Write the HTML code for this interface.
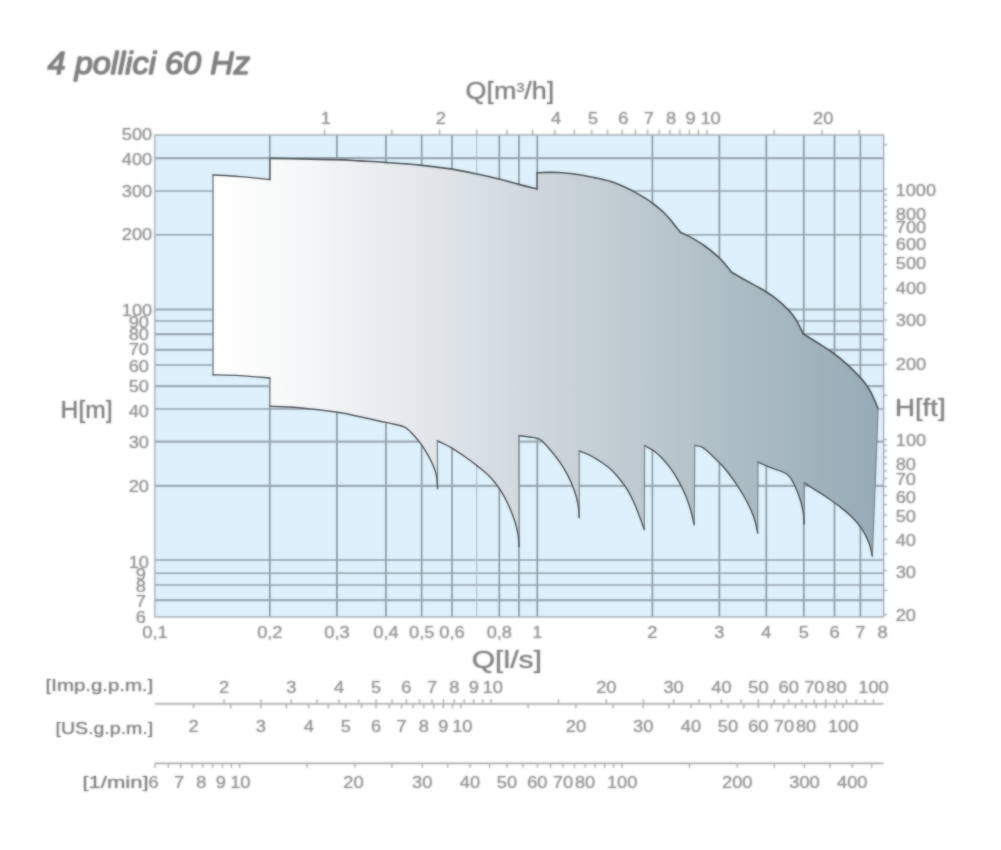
<!DOCTYPE html>
<html lang="it">
<head>
<meta charset="utf-8">
<title>4 pollici 60 Hz</title>
<style>
html,body{margin:0;padding:0;background:#ffffff;}
body{width:1001px;height:850px;overflow:hidden;font-family:"Liberation Sans",sans-serif;}
svg{display:block;font-family:"Liberation Sans",sans-serif;}
#wrap{width:1001px;height:850px;}
.soft{filter:blur(0.8px);}
.crisp{opacity:0.5;}
</style>
</head>
<body>
<div id="wrap">
<svg width="1001" height="850" viewBox="0 0 1001 850">
<defs><g id="all">
<rect x="155" y="135.1" width="728.5" height="481.7" fill="#ddf0fb"/>
<g stroke="#8c9aa3" stroke-width="1.7" fill="none">
<line x1="269.8" y1="135.1" x2="269.8" y2="616.8"/>
<line x1="336.9" y1="135.1" x2="336.9" y2="616.8"/>
<line x1="385.9" y1="135.1" x2="385.9" y2="616.8"/>
<line x1="421.7" y1="135.1" x2="421.7" y2="616.8"/>
<line x1="452" y1="135.1" x2="452" y2="616.8"/>
<line x1="499.3" y1="135.1" x2="499.3" y2="616.8"/>
<line x1="518.9" y1="135.1" x2="518.9" y2="616.8"/>
<line x1="537.3" y1="135.1" x2="537.3" y2="616.8"/>
<line x1="652.4" y1="135.1" x2="652.4" y2="616.8"/>
<line x1="719.4" y1="135.1" x2="719.4" y2="616.8"/>
<line x1="766.3" y1="135.1" x2="766.3" y2="616.8"/>
<line x1="803.8" y1="135.1" x2="803.8" y2="616.8"/>
<line x1="834.5" y1="135.1" x2="834.5" y2="616.8"/>
<line x1="860.4" y1="135.1" x2="860.4" y2="616.8"/>
</g>
<g stroke="#93a1aa" fill="none">
<line x1="155" y1="158.2" x2="883.5" y2="158.2" stroke-width="2.2" stroke="#9ba9b2"/>
<line x1="155" y1="190.9" x2="883.5" y2="190.9" stroke-width="1.5"/>
<line x1="155" y1="234.7" x2="883.5" y2="234.7" stroke-width="1.5"/>
<line x1="155" y1="309.5" x2="883.5" y2="309.5" stroke-width="2.2" stroke="#9ba9b2"/>
<line x1="155" y1="321" x2="883.5" y2="321" stroke-width="1.5"/>
<line x1="155" y1="334.2" x2="883.5" y2="334.2" stroke-width="2.2" stroke="#9ba9b2"/>
<line x1="155" y1="349.8" x2="883.5" y2="349.8" stroke-width="2.2" stroke="#9ba9b2"/>
<line x1="155" y1="364.9" x2="883.5" y2="364.9" stroke-width="1.5"/>
<line x1="155" y1="386.1" x2="883.5" y2="386.1" stroke-width="2.2" stroke="#9ba9b2"/>
<line x1="155" y1="409" x2="883.5" y2="409" stroke-width="1.5"/>
<line x1="155" y1="441.6" x2="883.5" y2="441.6" stroke-width="2.2" stroke="#9ba9b2"/>
<line x1="155" y1="485.8" x2="883.5" y2="485.8" stroke-width="2.2" stroke="#9ba9b2"/>
<line x1="155" y1="559.9" x2="883.5" y2="559.9" stroke-width="1.5"/>
<line x1="155" y1="573.3" x2="883.5" y2="573.3" stroke-width="1.5"/>
<line x1="155" y1="585.1" x2="883.5" y2="585.1" stroke-width="1.5"/>
<line x1="155" y1="600.1" x2="883.5" y2="600.1" stroke-width="2.2" stroke="#9ba9b2"/>
</g>
<line x1="476.6" y1="135.1" x2="476.6" y2="616.8" stroke="#b4c3cc" stroke-width="1.2"/>
<defs><linearGradient id="g" gradientUnits="userSpaceOnUse" x1="213" y1="0" x2="878" y2="0"><stop offset="0" stop-color="#ffffff"/><stop offset="0.12" stop-color="#f7f8f9"/><stop offset="0.30" stop-color="#e4e9ec"/><stop offset="0.50" stop-color="#cdd6dc"/><stop offset="0.75" stop-color="#b1c0c8"/><stop offset="1" stop-color="#96abb6"/></linearGradient></defs>
<path d="M213,374.8 L213,175 C217.5,175.27 230.5,175.85 240,176.6 C249.5,177.35 265,179.02 270,179.5 L270,158.4 C275,158.48 288.83,158.7 300,158.9 C311.17,159.1 327,159.27 337,159.6 C347,159.93 352,160.43 360,160.9 C368,161.37 375,161.7 385,162.4 C395,163.1 408.83,163.98 420,165.1 C431.17,166.22 442.5,167.62 452,169.1 C461.5,170.58 469,172.3 477,174 C485,175.7 493.03,177.57 500,179.3 C506.97,181.03 512.62,182.78 518.8,184.4 C524.98,186.02 534.05,188.23 537.1,189 L537.1,172.9 C538.75,172.82 543.38,172.47 547,172.4 C550.62,172.33 554.87,172.32 558.8,172.5 C562.73,172.68 566.67,173.03 570.6,173.5 C574.53,173.97 578.48,174.62 582.4,175.3 C586.32,175.98 591.17,177.02 594.1,177.6 C597.03,178.18 597.05,178.1 600,178.8 C602.95,179.5 607.88,180.52 611.8,181.8 C615.72,183.08 619.58,184.73 623.5,186.5 C627.42,188.27 631.37,190.25 635.3,192.4 C639.23,194.55 644.17,197.55 647.1,199.4 C650.03,201.25 650.95,202.03 652.9,203.5 C654.85,204.97 656.83,206.53 658.8,208.2 C660.77,209.87 662.73,211.53 664.7,213.5 C666.67,215.47 668.63,217.65 670.6,220 C672.57,222.35 674.83,225.53 676.5,227.6 C678.17,229.67 679.92,231.6 680.6,232.4 C681.87,232.98 684.28,233.72 688.2,235.9 C692.12,238.08 699.1,242.02 704.1,245.5 C709.1,248.98 714.67,253.63 718.2,256.8 C721.73,259.97 723.07,261.92 725.3,264.5 C727.53,267.08 730.55,271 731.6,272.3 C734.08,273.72 741.67,278.1 746.5,280.8 C751.33,283.5 755.9,285.68 760.6,288.5 C765.3,291.32 770,294.05 774.7,297.7 C779.4,301.35 785.27,306.75 788.8,310.4 C792.33,314.05 793.47,315.67 795.9,319.6 C798.33,323.53 802.15,331.6 803.4,334 C805.87,335.55 813.37,340.22 818.2,343.3 C823.03,346.38 827.68,349.08 832.4,352.5 C837.12,355.92 841.8,359.57 846.5,363.8 C851.2,368.03 856.83,373.67 860.6,377.9 C864.37,382.13 866.75,385.43 869.1,389.2 C871.45,392.97 873.22,397.25 874.7,400.5 C876.18,403.75 877.45,407.33 878,408.7 C877.8,414.32 877.35,427.97 876.8,442.4 C876.25,456.83 875.33,479.42 874.7,495.3 C874.07,511.18 873.4,527.58 873,537.7 C872.6,547.82 872.42,552.95 872.3,556 C871.82,554 871.12,548.47 869.4,544 C867.68,539.53 865,533.78 862,529.2 C859,524.62 855.3,520.4 851.4,516.5 C847.5,512.6 842.65,508.97 838.6,505.8 C834.55,502.63 830.95,500.12 827.1,497.5 C823.25,494.88 819.32,492.55 815.5,490.1 C811.68,487.65 806.08,484.02 804.2,482.8 L804.2,524 C804.12,522.62 804.15,519.02 803.7,515.7 C803.25,512.38 802.55,508.08 801.5,504.1 C800.45,500.12 798.9,495.63 797.4,491.8 C795.9,487.97 794.15,483.98 792.5,481.1 C790.85,478.22 789.43,476.15 787.5,474.5 C785.57,472.85 783.92,472.43 780.9,471.2 C777.88,469.97 773.23,468.62 769.4,467.1 C765.57,465.58 759.82,462.93 757.9,462.1 L757.7,533 C757.32,531.2 756.47,525.92 755.4,522.2 C754.33,518.48 753.08,514.82 751.3,510.7 C749.52,506.58 747.17,501.88 744.7,497.5 C742.23,493.12 739.25,488.52 736.5,484.4 C733.75,480.28 730.63,475.98 728.2,472.8 C725.77,469.62 724.6,468.2 721.9,465.3 C719.2,462.4 715.3,458.42 712,455.4 C708.7,452.38 704.98,448.87 702.1,447.2 C699.22,445.53 695.93,445.7 694.7,445.4 L694.2,524.6 C693.6,522.13 692.02,514.6 690.6,509.8 C689.18,505 687.62,500.47 685.7,495.8 C683.78,491.13 681.58,486.33 679.1,481.8 C676.62,477.27 673.55,472.45 670.8,468.6 C668.05,464.75 665.33,461.58 662.6,458.7 C659.87,455.82 657.42,453.5 654.4,451.3 C651.38,449.1 646.15,446.47 644.5,445.5 L644.3,529.5 C643.65,527.72 642.02,523.05 640.4,518.8 C638.78,514.55 636.67,508.67 634.6,504 C632.53,499.33 630.47,494.92 628,490.8 C625.53,486.68 622.82,483 619.8,479.3 C616.78,475.6 613.43,471.75 609.9,468.6 C606.37,465.45 602.13,462.73 598.6,460.4 C595.07,458.07 591.93,456.17 588.7,454.6 C585.47,453.03 580.78,451.6 579.2,451 L579.2,517.5 C579,515.25 578.88,508.72 578,504 C577.12,499.28 575.68,494.13 573.9,489.2 C572.12,484.27 569.77,479.07 567.3,474.4 C564.83,469.73 561.85,465.18 559.1,461.2 C556.35,457.22 553.55,453.8 550.8,450.5 C548.05,447.2 544.78,443.42 542.6,441.4 C540.42,439.38 539.9,439.13 537.7,438.4 C535.5,437.67 532.55,437.47 529.4,437 C526.25,436.53 520.57,435.83 518.8,435.6 L519.1,546.6 C518.9,544.45 518.65,538.05 517.9,533.7 C517.15,529.35 516.25,525.45 514.6,520.5 C512.95,515.55 510.47,509.22 508,504 C505.53,498.78 502.82,493.73 499.8,489.2 C496.78,484.67 493.4,480.48 489.9,476.8 C486.4,473.12 483,470.48 478.8,467.1 C474.6,463.72 469.4,459.8 464.7,456.5 C460,453.2 455.17,449.95 450.6,447.3 C446.03,444.65 439.52,441.72 437.3,440.6 L437.6,488.5 C437.42,486.45 437.17,479.88 436.5,476.2 C435.83,472.52 435.02,469.92 433.6,466.4 C432.18,462.88 430.12,458.87 428,455.1 C425.88,451.33 423.48,447.33 420.9,443.8 C418.32,440.27 415.2,436.68 412.5,433.9 C409.8,431.12 407.77,428.7 404.7,427.1 C401.63,425.5 398.22,425.28 394.1,424.3 C389.98,423.32 385.1,422.33 380,421.2 C374.9,420.07 370.57,418.98 363.5,417.5 C356.43,416.02 348.38,413.93 337.6,412.3 C326.82,410.67 310.07,408.7 298.8,407.7 C287.53,406.7 274.8,406.53 270,406.3 L270,378 C265,377.6 249.5,376.13 240,375.6 C230.5,375.07 217.5,374.93 213,374.8 Z" fill="url(#g)"/>
<g fill="none" stroke-linecap="round">
<path d="M213,374.8 L213,175" stroke="#7d858c" stroke-width="1.5"/>
<path d="M213,175 C217.5,175.27 230.5,175.85 240,176.6 C249.5,177.35 265,179.02 270,179.5" stroke="#4e5358" stroke-width="1.4"/>
<path d="M270,179.5 L270,158.4" stroke="#4e5358" stroke-width="1.4"/>
<path d="M270,158.4 C275,158.48 288.83,158.7 300,158.9 C311.17,159.1 327,159.27 337,159.6 C347,159.93 352,160.43 360,160.9 C368,161.37 375,161.7 385,162.4 C395,163.1 408.83,163.98 420,165.1 C431.17,166.22 442.5,167.62 452,169.1 C461.5,170.58 469,172.3 477,174 C485,175.7 493.03,177.57 500,179.3 C506.97,181.03 512.62,182.78 518.8,184.4 C524.98,186.02 534.05,188.23 537.1,189" stroke="#4e5358" stroke-width="1.65"/>
<path d="M537.1,189 L537.1,172.9" stroke="#4e5358" stroke-width="1.4"/>
<path d="M537.1,172.9 C538.75,172.82 543.38,172.47 547,172.4 C550.62,172.33 554.87,172.32 558.8,172.5 C562.73,172.68 566.67,173.03 570.6,173.5 C574.53,173.97 578.48,174.62 582.4,175.3 C586.32,175.98 591.17,177.02 594.1,177.6 C597.03,178.18 597.05,178.1 600,178.8 C602.95,179.5 607.88,180.52 611.8,181.8 C615.72,183.08 619.58,184.73 623.5,186.5 C627.42,188.27 631.37,190.25 635.3,192.4 C639.23,194.55 644.17,197.55 647.1,199.4 C650.03,201.25 650.95,202.03 652.9,203.5 C654.85,204.97 656.83,206.53 658.8,208.2 C660.77,209.87 662.73,211.53 664.7,213.5 C666.67,215.47 668.63,217.65 670.6,220 C672.57,222.35 674.83,225.53 676.5,227.6 C678.17,229.67 679.92,231.6 680.6,232.4" stroke="#4e5358" stroke-width="1.65"/>
<path d="M680.6,232.4 C681.87,232.98 684.28,233.72 688.2,235.9 C692.12,238.08 699.1,242.02 704.1,245.5 C709.1,248.98 714.67,253.63 718.2,256.8 C721.73,259.97 723.07,261.92 725.3,264.5 C727.53,267.08 730.55,271 731.6,272.3" stroke="#4e5358" stroke-width="1.65"/>
<path d="M731.6,272.3 C734.08,273.72 741.67,278.1 746.5,280.8 C751.33,283.5 755.9,285.68 760.6,288.5 C765.3,291.32 770,294.05 774.7,297.7 C779.4,301.35 785.27,306.75 788.8,310.4 C792.33,314.05 793.47,315.67 795.9,319.6 C798.33,323.53 802.15,331.6 803.4,334" stroke="#4e5358" stroke-width="1.65"/>
<path d="M803.4,334 C805.87,335.55 813.37,340.22 818.2,343.3 C823.03,346.38 827.68,349.08 832.4,352.5 C837.12,355.92 841.8,359.57 846.5,363.8 C851.2,368.03 856.83,373.67 860.6,377.9 C864.37,382.13 866.75,385.43 869.1,389.2 C871.45,392.97 873.22,397.25 874.7,400.5 C876.18,403.75 877.45,407.33 878,408.7" stroke="#4e5358" stroke-width="1.65"/>
<path d="M878,408.7 C877.8,414.32 877.35,427.97 876.8,442.4 C876.25,456.83 875.33,479.42 874.7,495.3 C874.07,511.18 873.4,527.58 873,537.7 C872.6,547.82 872.42,552.95 872.3,556" stroke="#7d858c" stroke-width="1.25"/>
<path d="M872.3,556 C871.82,554 871.12,548.47 869.4,544 C867.68,539.53 865,533.78 862,529.2 C859,524.62 855.3,520.4 851.4,516.5 C847.5,512.6 842.65,508.97 838.6,505.8 C834.55,502.63 830.95,500.12 827.1,497.5 C823.25,494.88 819.32,492.55 815.5,490.1 C811.68,487.65 806.08,484.02 804.2,482.8" stroke="#4e5358" stroke-width="1.4"/>
<path d="M804.2,482.8 L804.2,524" stroke="#7d858c" stroke-width="1.25"/>
<path d="M804.2,524 C804.12,522.62 804.15,519.02 803.7,515.7 C803.25,512.38 802.55,508.08 801.5,504.1 C800.45,500.12 798.9,495.63 797.4,491.8 C795.9,487.97 794.15,483.98 792.5,481.1 C790.85,478.22 789.43,476.15 787.5,474.5 C785.57,472.85 783.92,472.43 780.9,471.2 C777.88,469.97 773.23,468.62 769.4,467.1 C765.57,465.58 759.82,462.93 757.9,462.1" stroke="#4e5358" stroke-width="1.4"/>
<path d="M757.9,462.1 L757.7,533" stroke="#7d858c" stroke-width="1.25"/>
<path d="M757.7,533 C757.32,531.2 756.47,525.92 755.4,522.2 C754.33,518.48 753.08,514.82 751.3,510.7 C749.52,506.58 747.17,501.88 744.7,497.5 C742.23,493.12 739.25,488.52 736.5,484.4 C733.75,480.28 730.63,475.98 728.2,472.8 C725.77,469.62 724.6,468.2 721.9,465.3 C719.2,462.4 715.3,458.42 712,455.4 C708.7,452.38 704.98,448.87 702.1,447.2 C699.22,445.53 695.93,445.7 694.7,445.4" stroke="#4e5358" stroke-width="1.4"/>
<path d="M694.7,445.4 L694.2,524.6" stroke="#7d858c" stroke-width="1.25"/>
<path d="M694.2,524.6 C693.6,522.13 692.02,514.6 690.6,509.8 C689.18,505 687.62,500.47 685.7,495.8 C683.78,491.13 681.58,486.33 679.1,481.8 C676.62,477.27 673.55,472.45 670.8,468.6 C668.05,464.75 665.33,461.58 662.6,458.7 C659.87,455.82 657.42,453.5 654.4,451.3 C651.38,449.1 646.15,446.47 644.5,445.5" stroke="#4e5358" stroke-width="1.4"/>
<path d="M644.5,445.5 L644.3,529.5" stroke="#7d858c" stroke-width="1.25"/>
<path d="M644.3,529.5 C643.65,527.72 642.02,523.05 640.4,518.8 C638.78,514.55 636.67,508.67 634.6,504 C632.53,499.33 630.47,494.92 628,490.8 C625.53,486.68 622.82,483 619.8,479.3 C616.78,475.6 613.43,471.75 609.9,468.6 C606.37,465.45 602.13,462.73 598.6,460.4 C595.07,458.07 591.93,456.17 588.7,454.6 C585.47,453.03 580.78,451.6 579.2,451" stroke="#4e5358" stroke-width="1.4"/>
<path d="M579.2,451 L579.2,517.5" stroke="#7d858c" stroke-width="1.25"/>
<path d="M579.2,517.5 C579,515.25 578.88,508.72 578,504 C577.12,499.28 575.68,494.13 573.9,489.2 C572.12,484.27 569.77,479.07 567.3,474.4 C564.83,469.73 561.85,465.18 559.1,461.2 C556.35,457.22 553.55,453.8 550.8,450.5 C548.05,447.2 544.78,443.42 542.6,441.4 C540.42,439.38 539.9,439.13 537.7,438.4 C535.5,437.67 532.55,437.47 529.4,437 C526.25,436.53 520.57,435.83 518.8,435.6" stroke="#4e5358" stroke-width="1.4"/>
<path d="M518.8,435.6 L519.1,546.6" stroke="#7d858c" stroke-width="1.25"/>
<path d="M519.1,546.6 C518.9,544.45 518.65,538.05 517.9,533.7 C517.15,529.35 516.25,525.45 514.6,520.5 C512.95,515.55 510.47,509.22 508,504 C505.53,498.78 502.82,493.73 499.8,489.2 C496.78,484.67 493.4,480.48 489.9,476.8 C486.4,473.12 483,470.48 478.8,467.1 C474.6,463.72 469.4,459.8 464.7,456.5 C460,453.2 455.17,449.95 450.6,447.3 C446.03,444.65 439.52,441.72 437.3,440.6" stroke="#4e5358" stroke-width="1.4"/>
<path d="M437.3,440.6 L437.6,488.5" stroke="#7d858c" stroke-width="1.25"/>
<path d="M437.6,488.5 C437.42,486.45 437.17,479.88 436.5,476.2 C435.83,472.52 435.02,469.92 433.6,466.4 C432.18,462.88 430.12,458.87 428,455.1 C425.88,451.33 423.48,447.33 420.9,443.8 C418.32,440.27 415.2,436.68 412.5,433.9 C409.8,431.12 407.77,428.7 404.7,427.1 C401.63,425.5 398.22,425.28 394.1,424.3 C389.98,423.32 385.1,422.33 380,421.2 C374.9,420.07 370.57,418.98 363.5,417.5 C356.43,416.02 348.38,413.93 337.6,412.3 C326.82,410.67 310.07,408.7 298.8,407.7 C287.53,406.7 274.8,406.53 270,406.3" stroke="#4e5358" stroke-width="1.4"/>
<path d="M270,406.3 L270,378" stroke="#7d858c" stroke-width="1.25"/>
<path d="M270,378 C265,377.6 249.5,376.13 240,375.6 C230.5,375.07 217.5,374.93 213,374.8" stroke="#4e5358" stroke-width="1.4"/>
</g>
<rect x="155" y="135.1" width="728.5" height="481.7" fill="none" stroke="#a3adb3" stroke-width="1.2"/>
<text transform="translate(137,140.2) scale(1.14,1)" font-size="16.0" text-anchor="middle" fill="#949494">500</text>
<text transform="translate(137,164.9) scale(1.14,1)" font-size="16.0" text-anchor="middle" fill="#949494">400</text>
<text transform="translate(137,196.5) scale(1.14,1)" font-size="16.0" text-anchor="middle" fill="#949494">300</text>
<text transform="translate(137,240.2) scale(1.14,1)" font-size="16.0" text-anchor="middle" fill="#949494">200</text>
<text transform="translate(137,315.5) scale(1.14,1)" font-size="16.0" text-anchor="middle" fill="#949494">100</text>
<text transform="translate(138.8,327.8) scale(1.14,1)" font-size="16.0" text-anchor="middle" fill="#949494">90</text>
<text transform="translate(138.8,340.2) scale(1.14,1)" font-size="16.0" text-anchor="middle" fill="#949494">80</text>
<text transform="translate(138.8,355.3) scale(1.14,1)" font-size="16.0" text-anchor="middle" fill="#949494">70</text>
<text transform="translate(138.8,371.8) scale(1.14,1)" font-size="16.0" text-anchor="middle" fill="#949494">60</text>
<text transform="translate(138.8,392.1) scale(1.14,1)" font-size="16.0" text-anchor="middle" fill="#949494">50</text>
<text transform="translate(138.8,417.3) scale(1.14,1)" font-size="16.0" text-anchor="middle" fill="#949494">40</text>
<text transform="translate(138.8,448.1) scale(1.14,1)" font-size="16.0" text-anchor="middle" fill="#949494">30</text>
<text transform="translate(138.8,491.6) scale(1.14,1)" font-size="16.0" text-anchor="middle" fill="#949494">20</text>
<text transform="translate(138.8,567.7) scale(1.14,1)" font-size="16.0" text-anchor="middle" fill="#949494">10</text>
<text transform="translate(140.8,580) scale(1.14,1)" font-size="16.0" text-anchor="middle" fill="#949494">9</text>
<text transform="translate(140.8,592.3) scale(1.14,1)" font-size="16.0" text-anchor="middle" fill="#949494">8</text>
<text transform="translate(140.8,606.6) scale(1.14,1)" font-size="16.0" text-anchor="middle" fill="#949494">7</text>
<text transform="translate(140.8,623.4) scale(1.14,1)" font-size="16.0" text-anchor="middle" fill="#949494">6</text>
<g stroke="#a8a8a8" stroke-width="1">
<line x1="883.5" y1="144.8" x2="887.1" y2="144.8"/>
<line x1="883.5" y1="189" x2="887.1" y2="189"/>
<line x1="883.5" y1="194.6" x2="887.1" y2="194.6"/>
<line x1="883.5" y1="200.4" x2="887.1" y2="200.4"/>
<line x1="883.5" y1="206.7" x2="887.1" y2="206.7"/>
<line x1="883.5" y1="213.3" x2="887.1" y2="213.3"/>
<line x1="883.5" y1="220.3" x2="887.1" y2="220.3"/>
<line x1="883.5" y1="227.8" x2="887.1" y2="227.8"/>
<line x1="883.5" y1="235.9" x2="887.1" y2="235.9"/>
<line x1="883.5" y1="244.6" x2="887.1" y2="244.6"/>
<line x1="883.5" y1="254" x2="887.1" y2="254"/>
<line x1="883.5" y1="264.4" x2="887.1" y2="264.4"/>
<line x1="883.5" y1="275.9" x2="887.1" y2="275.9"/>
<line x1="883.5" y1="288.7" x2="887.1" y2="288.7"/>
<line x1="883.5" y1="303.2" x2="887.1" y2="303.2"/>
<line x1="883.5" y1="320" x2="887.1" y2="320"/>
<line x1="883.5" y1="339.8" x2="887.1" y2="339.8"/>
<line x1="883.5" y1="364.1" x2="887.1" y2="364.1"/>
<line x1="883.5" y1="395.4" x2="887.1" y2="395.4"/>
<line x1="883.5" y1="439.6" x2="887.1" y2="439.6"/>
<line x1="883.5" y1="445.2" x2="887.1" y2="445.2"/>
<line x1="883.5" y1="451" x2="887.1" y2="451"/>
<line x1="883.5" y1="457.3" x2="887.1" y2="457.3"/>
<line x1="883.5" y1="463.9" x2="887.1" y2="463.9"/>
<line x1="883.5" y1="470.9" x2="887.1" y2="470.9"/>
<line x1="883.5" y1="478.4" x2="887.1" y2="478.4"/>
<line x1="883.5" y1="486.5" x2="887.1" y2="486.5"/>
<line x1="883.5" y1="495.2" x2="887.1" y2="495.2"/>
<line x1="883.5" y1="504.6" x2="887.1" y2="504.6"/>
<line x1="883.5" y1="515" x2="887.1" y2="515"/>
<line x1="883.5" y1="526.5" x2="887.1" y2="526.5"/>
<line x1="883.5" y1="539.3" x2="887.1" y2="539.3"/>
<line x1="883.5" y1="553.8" x2="887.1" y2="553.8"/>
<line x1="883.5" y1="570.6" x2="887.1" y2="570.6"/>
<line x1="883.5" y1="590.4" x2="887.1" y2="590.4"/>
<line x1="883.5" y1="614.7" x2="887.1" y2="614.7"/>
</g>
<text transform="translate(915.8,195.7) scale(1.14,1)" font-size="16.0" text-anchor="middle" fill="#949494">1000</text>
<text transform="translate(911,219.7) scale(1.14,1)" font-size="16.0" text-anchor="middle" fill="#949494">800</text>
<text transform="translate(911,232.9) scale(1.14,1)" font-size="16.0" text-anchor="middle" fill="#949494">700</text>
<text transform="translate(911,249.7) scale(1.14,1)" font-size="16.0" text-anchor="middle" fill="#949494">600</text>
<text transform="translate(911,269.3) scale(1.14,1)" font-size="16.0" text-anchor="middle" fill="#949494">500</text>
<text transform="translate(911,293.9) scale(1.14,1)" font-size="16.0" text-anchor="middle" fill="#949494">400</text>
<text transform="translate(911,325.7) scale(1.14,1)" font-size="16.0" text-anchor="middle" fill="#949494">300</text>
<text transform="translate(911,370.3) scale(1.14,1)" font-size="16.0" text-anchor="middle" fill="#949494">200</text>
<text transform="translate(911,446.3) scale(1.14,1)" font-size="16.0" text-anchor="middle" fill="#949494">100</text>
<text transform="translate(905.8,469.6) scale(1.14,1)" font-size="16.0" text-anchor="middle" fill="#949494">80</text>
<text transform="translate(905.8,485.4) scale(1.14,1)" font-size="16.0" text-anchor="middle" fill="#949494">70</text>
<text transform="translate(905.8,502.7) scale(1.14,1)" font-size="16.0" text-anchor="middle" fill="#949494">60</text>
<text transform="translate(905.8,521.5) scale(1.14,1)" font-size="16.0" text-anchor="middle" fill="#949494">50</text>
<text transform="translate(905.8,545.9) scale(1.14,1)" font-size="16.0" text-anchor="middle" fill="#949494">40</text>
<text transform="translate(905.8,577.5) scale(1.14,1)" font-size="16.0" text-anchor="middle" fill="#949494">30</text>
<text transform="translate(905.8,621.3) scale(1.14,1)" font-size="16.0" text-anchor="middle" fill="#949494">20</text>
<g stroke="#a8a8a8" stroke-width="1">
<line x1="324.6" y1="135.1" x2="324.6" y2="129.6"/>
<line x1="391.9" y1="135.1" x2="391.9" y2="129.6"/>
<line x1="439.7" y1="135.1" x2="439.7" y2="129.6"/>
<line x1="476.8" y1="135.1" x2="476.8" y2="129.6"/>
<line x1="507" y1="135.1" x2="507" y2="129.6"/>
<line x1="532.6" y1="135.1" x2="532.6" y2="129.6"/>
<line x1="554.8" y1="135.1" x2="554.8" y2="129.6"/>
<line x1="574.3" y1="135.1" x2="574.3" y2="129.6"/>
<line x1="591.8" y1="135.1" x2="591.8" y2="129.6"/>
<line x1="607.7" y1="135.1" x2="607.7" y2="129.6"/>
<line x1="622.1" y1="135.1" x2="622.1" y2="129.6"/>
<line x1="635.4" y1="135.1" x2="635.4" y2="129.6"/>
<line x1="647.7" y1="135.1" x2="647.7" y2="129.6"/>
<line x1="659.2" y1="135.1" x2="659.2" y2="129.6"/>
<line x1="669.9" y1="135.1" x2="669.9" y2="129.6"/>
<line x1="679.9" y1="135.1" x2="679.9" y2="129.6"/>
<line x1="689.4" y1="135.1" x2="689.4" y2="129.6"/>
<line x1="698.4" y1="135.1" x2="698.4" y2="129.6"/>
<line x1="706.9" y1="135.1" x2="706.9" y2="129.6"/>
<line x1="774.2" y1="135.1" x2="774.2" y2="129.6"/>
<line x1="822" y1="135.1" x2="822" y2="129.6"/>
<line x1="859.1" y1="135.1" x2="859.1" y2="129.6"/>
</g>
<text transform="translate(325.8,123.5) scale(1.14,1)" font-size="16.0" text-anchor="middle" fill="#949494">1</text>
<text transform="translate(440.9,123.5) scale(1.14,1)" font-size="16.0" text-anchor="middle" fill="#949494">2</text>
<text transform="translate(556,123.5) scale(1.14,1)" font-size="16.0" text-anchor="middle" fill="#949494">4</text>
<text transform="translate(593,123.5) scale(1.14,1)" font-size="16.0" text-anchor="middle" fill="#949494">5</text>
<text transform="translate(623.3,123.5) scale(1.14,1)" font-size="16.0" text-anchor="middle" fill="#949494">6</text>
<text transform="translate(648.9,123.5) scale(1.14,1)" font-size="16.0" text-anchor="middle" fill="#949494">7</text>
<text transform="translate(671.1,123.5) scale(1.14,1)" font-size="16.0" text-anchor="middle" fill="#949494">8</text>
<text transform="translate(690.6,123.5) scale(1.14,1)" font-size="16.0" text-anchor="middle" fill="#949494">9</text>
<text transform="translate(710.6,123.5) scale(1.14,1)" font-size="16.0" text-anchor="middle" fill="#949494">10</text>
<text transform="translate(823.2,123.5) scale(1.14,1)" font-size="16.0" text-anchor="middle" fill="#949494">20</text>
<text transform="translate(155,638.3) scale(1.14,1)" font-size="16.0" text-anchor="middle" fill="#949494">0,1</text>
<text transform="translate(269.8,638.3) scale(1.14,1)" font-size="16.0" text-anchor="middle" fill="#949494">0,2</text>
<text transform="translate(336.9,638.3) scale(1.14,1)" font-size="16.0" text-anchor="middle" fill="#949494">0,3</text>
<text transform="translate(385.9,638.3) scale(1.14,1)" font-size="16.0" text-anchor="middle" fill="#949494">0,4</text>
<text transform="translate(421.7,638.3) scale(1.14,1)" font-size="16.0" text-anchor="middle" fill="#949494">0,5</text>
<text transform="translate(452,638.3) scale(1.14,1)" font-size="16.0" text-anchor="middle" fill="#949494">0,6</text>
<text transform="translate(499.3,638.3) scale(1.14,1)" font-size="16.0" text-anchor="middle" fill="#949494">0,8</text>
<text transform="translate(537.3,638.3) scale(1.14,1)" font-size="16.0" text-anchor="middle" fill="#949494">1</text>
<text transform="translate(652.4,638.3) scale(1.14,1)" font-size="16.0" text-anchor="middle" fill="#949494">2</text>
<text transform="translate(719.4,638.3) scale(1.14,1)" font-size="16.0" text-anchor="middle" fill="#949494">3</text>
<text transform="translate(766.3,638.3) scale(1.14,1)" font-size="16.0" text-anchor="middle" fill="#949494">4</text>
<text transform="translate(803.8,638.3) scale(1.14,1)" font-size="16.0" text-anchor="middle" fill="#949494">5</text>
<text transform="translate(834.5,638.3) scale(1.14,1)" font-size="16.0" text-anchor="middle" fill="#949494">6</text>
<text transform="translate(860.4,638.3) scale(1.14,1)" font-size="16.0" text-anchor="middle" fill="#949494">7</text>
<text transform="translate(882.6,638.3) scale(1.14,1)" font-size="16.0" text-anchor="middle" fill="#949494">8</text>
<g stroke="#a8a8a8" stroke-width="1.2">
<line x1="155" y1="703.8" x2="883.5" y2="703.8"/>
<line x1="155" y1="763.4" x2="883.5" y2="763.4"/>
</g>
<g stroke="#a8a8a8" stroke-width="1">
<line x1="224" y1="703.8" x2="224" y2="699.3"/>
<line x1="261.1" y1="703.8" x2="261.1" y2="699.3"/>
<line x1="291.3" y1="703.8" x2="291.3" y2="699.3"/>
<line x1="316.9" y1="703.8" x2="316.9" y2="699.3"/>
<line x1="339.1" y1="703.8" x2="339.1" y2="699.3"/>
<line x1="358.7" y1="703.8" x2="358.7" y2="699.3"/>
<line x1="376.1" y1="703.8" x2="376.1" y2="699.3"/>
<line x1="392" y1="703.8" x2="392" y2="699.3"/>
<line x1="406.4" y1="703.8" x2="406.4" y2="699.3"/>
<line x1="419.7" y1="703.8" x2="419.7" y2="699.3"/>
<line x1="432" y1="703.8" x2="432" y2="699.3"/>
<line x1="443.5" y1="703.8" x2="443.5" y2="699.3"/>
<line x1="454.2" y1="703.8" x2="454.2" y2="699.3"/>
<line x1="464.2" y1="703.8" x2="464.2" y2="699.3"/>
<line x1="473.7" y1="703.8" x2="473.7" y2="699.3"/>
<line x1="482.7" y1="703.8" x2="482.7" y2="699.3"/>
<line x1="491.2" y1="703.8" x2="491.2" y2="699.3"/>
<line x1="558.5" y1="703.8" x2="558.5" y2="699.3"/>
<line x1="606.3" y1="703.8" x2="606.3" y2="699.3"/>
<line x1="643.4" y1="703.8" x2="643.4" y2="699.3"/>
<line x1="673.6" y1="703.8" x2="673.6" y2="699.3"/>
<line x1="699.2" y1="703.8" x2="699.2" y2="699.3"/>
<line x1="721.4" y1="703.8" x2="721.4" y2="699.3"/>
<line x1="741" y1="703.8" x2="741" y2="699.3"/>
<line x1="758.4" y1="703.8" x2="758.4" y2="699.3"/>
<line x1="774.3" y1="703.8" x2="774.3" y2="699.3"/>
<line x1="788.7" y1="703.8" x2="788.7" y2="699.3"/>
<line x1="802" y1="703.8" x2="802" y2="699.3"/>
<line x1="814.3" y1="703.8" x2="814.3" y2="699.3"/>
<line x1="825.8" y1="703.8" x2="825.8" y2="699.3"/>
<line x1="836.5" y1="703.8" x2="836.5" y2="699.3"/>
<line x1="846.5" y1="703.8" x2="846.5" y2="699.3"/>
<line x1="856" y1="703.8" x2="856" y2="699.3"/>
<line x1="865" y1="703.8" x2="865" y2="699.3"/>
<line x1="873.5" y1="703.8" x2="873.5" y2="699.3"/>
</g>
<g stroke="#a8a8a8" stroke-width="1">
<line x1="193.6" y1="703.8" x2="193.6" y2="708.3"/>
<line x1="230.7" y1="703.8" x2="230.7" y2="708.3"/>
<line x1="260.9" y1="703.8" x2="260.9" y2="708.3"/>
<line x1="286.5" y1="703.8" x2="286.5" y2="708.3"/>
<line x1="308.7" y1="703.8" x2="308.7" y2="708.3"/>
<line x1="328.2" y1="703.8" x2="328.2" y2="708.3"/>
<line x1="345.7" y1="703.8" x2="345.7" y2="708.3"/>
<line x1="361.6" y1="703.8" x2="361.6" y2="708.3"/>
<line x1="376" y1="703.8" x2="376" y2="708.3"/>
<line x1="389.3" y1="703.8" x2="389.3" y2="708.3"/>
<line x1="401.6" y1="703.8" x2="401.6" y2="708.3"/>
<line x1="413.1" y1="703.8" x2="413.1" y2="708.3"/>
<line x1="423.8" y1="703.8" x2="423.8" y2="708.3"/>
<line x1="433.8" y1="703.8" x2="433.8" y2="708.3"/>
<line x1="443.3" y1="703.8" x2="443.3" y2="708.3"/>
<line x1="452.3" y1="703.8" x2="452.3" y2="708.3"/>
<line x1="460.8" y1="703.8" x2="460.8" y2="708.3"/>
<line x1="528.1" y1="703.8" x2="528.1" y2="708.3"/>
<line x1="575.9" y1="703.8" x2="575.9" y2="708.3"/>
<line x1="613" y1="703.8" x2="613" y2="708.3"/>
<line x1="643.2" y1="703.8" x2="643.2" y2="708.3"/>
<line x1="668.8" y1="703.8" x2="668.8" y2="708.3"/>
<line x1="691" y1="703.8" x2="691" y2="708.3"/>
<line x1="710.5" y1="703.8" x2="710.5" y2="708.3"/>
<line x1="728" y1="703.8" x2="728" y2="708.3"/>
<line x1="743.9" y1="703.8" x2="743.9" y2="708.3"/>
<line x1="758.3" y1="703.8" x2="758.3" y2="708.3"/>
<line x1="771.6" y1="703.8" x2="771.6" y2="708.3"/>
<line x1="783.9" y1="703.8" x2="783.9" y2="708.3"/>
<line x1="795.4" y1="703.8" x2="795.4" y2="708.3"/>
<line x1="806.1" y1="703.8" x2="806.1" y2="708.3"/>
<line x1="816.1" y1="703.8" x2="816.1" y2="708.3"/>
<line x1="825.6" y1="703.8" x2="825.6" y2="708.3"/>
<line x1="834.6" y1="703.8" x2="834.6" y2="708.3"/>
<line x1="843.1" y1="703.8" x2="843.1" y2="708.3"/>
</g>
<g stroke="#a8a8a8" stroke-width="1">
<line x1="155" y1="763.4" x2="155" y2="767.9"/>
<line x1="168.3" y1="763.4" x2="168.3" y2="767.9"/>
<line x1="180.6" y1="763.4" x2="180.6" y2="767.9"/>
<line x1="192" y1="763.4" x2="192" y2="767.9"/>
<line x1="202.8" y1="763.4" x2="202.8" y2="767.9"/>
<line x1="212.8" y1="763.4" x2="212.8" y2="767.9"/>
<line x1="222.3" y1="763.4" x2="222.3" y2="767.9"/>
<line x1="231.3" y1="763.4" x2="231.3" y2="767.9"/>
<line x1="239.8" y1="763.4" x2="239.8" y2="767.9"/>
<line x1="307.1" y1="763.4" x2="307.1" y2="767.9"/>
<line x1="354.9" y1="763.4" x2="354.9" y2="767.9"/>
<line x1="391.9" y1="763.4" x2="391.9" y2="767.9"/>
<line x1="422.2" y1="763.4" x2="422.2" y2="767.9"/>
<line x1="447.8" y1="763.4" x2="447.8" y2="767.9"/>
<line x1="470" y1="763.4" x2="470" y2="767.9"/>
<line x1="489.5" y1="763.4" x2="489.5" y2="767.9"/>
<line x1="507" y1="763.4" x2="507" y2="767.9"/>
<line x1="522.9" y1="763.4" x2="522.9" y2="767.9"/>
<line x1="537.3" y1="763.4" x2="537.3" y2="767.9"/>
<line x1="550.6" y1="763.4" x2="550.6" y2="767.9"/>
<line x1="562.9" y1="763.4" x2="562.9" y2="767.9"/>
<line x1="574.3" y1="763.4" x2="574.3" y2="767.9"/>
<line x1="585.1" y1="763.4" x2="585.1" y2="767.9"/>
<line x1="595.1" y1="763.4" x2="595.1" y2="767.9"/>
<line x1="604.6" y1="763.4" x2="604.6" y2="767.9"/>
<line x1="613.6" y1="763.4" x2="613.6" y2="767.9"/>
<line x1="622.1" y1="763.4" x2="622.1" y2="767.9"/>
<line x1="689.4" y1="763.4" x2="689.4" y2="767.9"/>
<line x1="737.2" y1="763.4" x2="737.2" y2="767.9"/>
<line x1="774.2" y1="763.4" x2="774.2" y2="767.9"/>
<line x1="804.5" y1="763.4" x2="804.5" y2="767.9"/>
<line x1="830.1" y1="763.4" x2="830.1" y2="767.9"/>
<line x1="852.3" y1="763.4" x2="852.3" y2="767.9"/>
<line x1="871.8" y1="763.4" x2="871.8" y2="767.9"/>
</g>
<text transform="translate(224,693) scale(1.14,1)" font-size="16.0" text-anchor="middle" fill="#949494">2</text>
<text transform="translate(291.3,693) scale(1.14,1)" font-size="16.0" text-anchor="middle" fill="#949494">3</text>
<text transform="translate(339.1,693) scale(1.14,1)" font-size="16.0" text-anchor="middle" fill="#949494">4</text>
<text transform="translate(376.1,693) scale(1.14,1)" font-size="16.0" text-anchor="middle" fill="#949494">5</text>
<text transform="translate(406.4,693) scale(1.14,1)" font-size="16.0" text-anchor="middle" fill="#949494">6</text>
<text transform="translate(432,693) scale(1.14,1)" font-size="16.0" text-anchor="middle" fill="#949494">7</text>
<text transform="translate(454.2,693) scale(1.14,1)" font-size="16.0" text-anchor="middle" fill="#949494">8</text>
<text transform="translate(473.7,693) scale(1.14,1)" font-size="16.0" text-anchor="middle" fill="#949494">9</text>
<text transform="translate(492.7,693) scale(1.14,1)" font-size="16.0" text-anchor="middle" fill="#949494">10</text>
<text transform="translate(606.3,693) scale(1.14,1)" font-size="16.0" text-anchor="middle" fill="#949494">20</text>
<text transform="translate(673.6,693) scale(1.14,1)" font-size="16.0" text-anchor="middle" fill="#949494">30</text>
<text transform="translate(721.4,693) scale(1.14,1)" font-size="16.0" text-anchor="middle" fill="#949494">40</text>
<text transform="translate(758.4,693) scale(1.14,1)" font-size="16.0" text-anchor="middle" fill="#949494">50</text>
<text transform="translate(788.7,693) scale(1.14,1)" font-size="16.0" text-anchor="middle" fill="#949494">60</text>
<text transform="translate(814.3,693) scale(1.14,1)" font-size="16.0" text-anchor="middle" fill="#949494">70</text>
<text transform="translate(836.5,693) scale(1.14,1)" font-size="16.0" text-anchor="middle" fill="#949494">80</text>
<text transform="translate(873.5,693) scale(1.14,1)" font-size="16.0" text-anchor="middle" fill="#949494">100</text>
<text transform="translate(193.6,732) scale(1.14,1)" font-size="16.0" text-anchor="middle" fill="#949494">2</text>
<text transform="translate(260.9,732) scale(1.14,1)" font-size="16.0" text-anchor="middle" fill="#949494">3</text>
<text transform="translate(308.7,732) scale(1.14,1)" font-size="16.0" text-anchor="middle" fill="#949494">4</text>
<text transform="translate(345.7,732) scale(1.14,1)" font-size="16.0" text-anchor="middle" fill="#949494">5</text>
<text transform="translate(376,732) scale(1.14,1)" font-size="16.0" text-anchor="middle" fill="#949494">6</text>
<text transform="translate(401.6,732) scale(1.14,1)" font-size="16.0" text-anchor="middle" fill="#949494">7</text>
<text transform="translate(423.8,732) scale(1.14,1)" font-size="16.0" text-anchor="middle" fill="#949494">8</text>
<text transform="translate(443.3,732) scale(1.14,1)" font-size="16.0" text-anchor="middle" fill="#949494">9</text>
<text transform="translate(462.3,732) scale(1.14,1)" font-size="16.0" text-anchor="middle" fill="#949494">10</text>
<text transform="translate(575.9,732) scale(1.14,1)" font-size="16.0" text-anchor="middle" fill="#949494">20</text>
<text transform="translate(643.2,732) scale(1.14,1)" font-size="16.0" text-anchor="middle" fill="#949494">30</text>
<text transform="translate(691,732) scale(1.14,1)" font-size="16.0" text-anchor="middle" fill="#949494">40</text>
<text transform="translate(728,732) scale(1.14,1)" font-size="16.0" text-anchor="middle" fill="#949494">50</text>
<text transform="translate(758.3,732) scale(1.14,1)" font-size="16.0" text-anchor="middle" fill="#949494">60</text>
<text transform="translate(783.9,732) scale(1.14,1)" font-size="16.0" text-anchor="middle" fill="#949494">70</text>
<text transform="translate(806.1,732) scale(1.14,1)" font-size="16.0" text-anchor="middle" fill="#949494">80</text>
<text transform="translate(843.1,732) scale(1.14,1)" font-size="16.0" text-anchor="middle" fill="#949494">100</text>
<text transform="translate(153.5,788) scale(1.14,1)" font-size="16.0" text-anchor="middle" fill="#949494">6</text>
<text transform="translate(179.1,788) scale(1.14,1)" font-size="16.0" text-anchor="middle" fill="#949494">7</text>
<text transform="translate(201.3,788) scale(1.14,1)" font-size="16.0" text-anchor="middle" fill="#949494">8</text>
<text transform="translate(220.8,788) scale(1.14,1)" font-size="16.0" text-anchor="middle" fill="#949494">9</text>
<text transform="translate(240.3,788) scale(1.14,1)" font-size="16.0" text-anchor="middle" fill="#949494">10</text>
<text transform="translate(353.4,788) scale(1.14,1)" font-size="16.0" text-anchor="middle" fill="#949494">20</text>
<text transform="translate(422.2,788) scale(1.14,1)" font-size="16.0" text-anchor="middle" fill="#949494">30</text>
<text transform="translate(470,788) scale(1.14,1)" font-size="16.0" text-anchor="middle" fill="#949494">40</text>
<text transform="translate(507,788) scale(1.14,1)" font-size="16.0" text-anchor="middle" fill="#949494">50</text>
<text transform="translate(537.3,788) scale(1.14,1)" font-size="16.0" text-anchor="middle" fill="#949494">60</text>
<text transform="translate(562.9,788) scale(1.14,1)" font-size="16.0" text-anchor="middle" fill="#949494">70</text>
<text transform="translate(585.1,788) scale(1.14,1)" font-size="16.0" text-anchor="middle" fill="#949494">80</text>
<text transform="translate(622.1,788) scale(1.14,1)" font-size="16.0" text-anchor="middle" fill="#949494">100</text>
<text transform="translate(737.2,788) scale(1.14,1)" font-size="16.0" text-anchor="middle" fill="#949494">200</text>
<text transform="translate(804.5,788) scale(1.14,1)" font-size="16.0" text-anchor="middle" fill="#949494">300</text>
<text transform="translate(852.3,788) scale(1.14,1)" font-size="16.0" text-anchor="middle" fill="#949494">400</text>
<text x="45.6" y="691.2" font-size="16.5" fill="#808080" textLength="107.6" lengthAdjust="spacingAndGlyphs">[Imp.g.p.m.]</text>
<text x="55.5" y="734.3" font-size="16.5" fill="#808080" textLength="97.7" lengthAdjust="spacingAndGlyphs">[US.g.p.m.]</text>
<text x="82.4" y="788.2" font-size="16.5" fill="#808080" textLength="66.2" lengthAdjust="spacingAndGlyphs">[1/min]</text>
<text x="60.6" y="417.8" font-size="23.5" fill="#808080" textLength="52" lengthAdjust="spacingAndGlyphs">H[m]</text>
<text x="895" y="416.4" font-size="23.5" fill="#808080" textLength="50.6" lengthAdjust="spacingAndGlyphs">H[ft]</text>
<text x="471.7" y="668" font-size="23.5" fill="#808080" textLength="70.3" lengthAdjust="spacingAndGlyphs">Q[l/s]</text>
<text x="465.6" y="99.2" font-size="23.5" fill="#808080" textLength="88.7" lengthAdjust="spacingAndGlyphs">Q[m<tspan font-size="12.5" dy="-7.5">3</tspan><tspan dy="7.5">/h]</tspan></text>
<text x="47.5" y="73.5" font-size="31" font-style="italic" fill="#7f7f7f" stroke="#7f7f7f" stroke-width="0.9" stroke-linejoin="round" textLength="202.5" lengthAdjust="spacingAndGlyphs">4 pollici 60 Hz</text>
</g></defs>
<g class="soft"><use href="#all"/></g>
<g class="crisp"><use href="#all"/></g>
</svg>
</div>
</body>
</html>
